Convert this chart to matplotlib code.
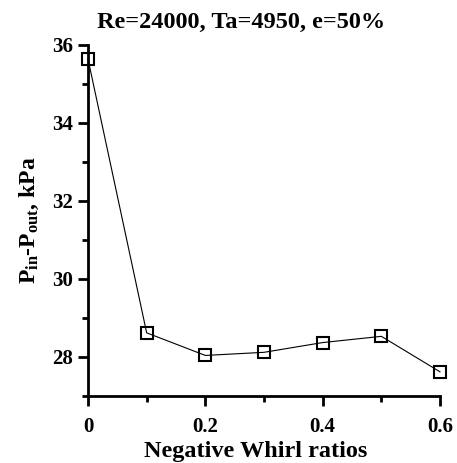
import matplotlib
matplotlib.use("Agg")
import matplotlib.pyplot as plt
from matplotlib.ticker import MultipleLocator, FuncFormatter

plt.rcParams['font.family'] = 'Liberation Serif'
plt.rcParams['font.weight'] = 'bold'
plt.rcParams['mathtext.fontset'] = 'custom'
plt.rcParams['mathtext.rm'] = 'Liberation Serif:bold'
plt.rcParams['mathtext.bf'] = 'Liberation Serif:bold'
plt.rcParams['mathtext.it'] = 'Liberation Serif:bold'

whirl_ratio = [0.0, 0.1, 0.2, 0.3, 0.4, 0.5, 0.6]
pressure_drop = [35.64, 28.62, 28.04, 28.12, 28.37, 28.53, 27.62]

fig = plt.figure(figsize=(4.57, 4.63), dpi=100)
ax = fig.add_axes([88/457, 1-396/463, 352/457, 351/463])

ax.plot(whirl_ratio, pressure_drop, color='black', lw=0.8, marker='s',
        markersize=8.5, markerfacecolor='none', markeredgecolor='black',
        markeredgewidth=1.5, clip_on=False, zorder=3)

ax.set_xlim(0, 0.6)
ax.set_ylim(27, 36)
ax.xaxis.set_major_locator(MultipleLocator(0.2))
ax.xaxis.set_minor_locator(MultipleLocator(0.1))
ax.yaxis.set_major_locator(MultipleLocator(2))
ax.yaxis.set_minor_locator(MultipleLocator(1))
ax.xaxis.set_major_formatter(FuncFormatter(lambda v, p: '0' if abs(v) < 1e-9 else f'{v:.1f}'))

for s in ['top', 'right']:
    ax.spines[s].set_visible(False)
for s in ['left', 'bottom']:
    ax.spines[s].set_linewidth(2)

ax.tick_params(which='major', direction='out', length=7, width=2, labelsize=15)
ax.tick_params(axis='y', which='major', pad=4)
ax.tick_params(axis='x', which='major', pad=8)
ax.tick_params(which='minor', direction='out', length=4, width=2)

fig.text(241.5/457, 1-28/463, 'Re=24000, Ta=4950, e=50%', fontsize=17.5,
         fontweight='bold', ha='center', va='baseline')
ax.set_xlabel('Negative Whirl ratios', fontsize=17.5, fontweight='bold')
ax.xaxis.set_label_coords((255.5-88)/352, -(457-396)/351)
ax.xaxis.label.set_va('baseline')
ax.set_ylabel(r'$\mathregular{P_{in}}$-$\mathregular{P_{out}}$, kPa', fontsize=17, fontweight='bold', labelpad=8)

fig.savefig('out.png', dpi=100)
